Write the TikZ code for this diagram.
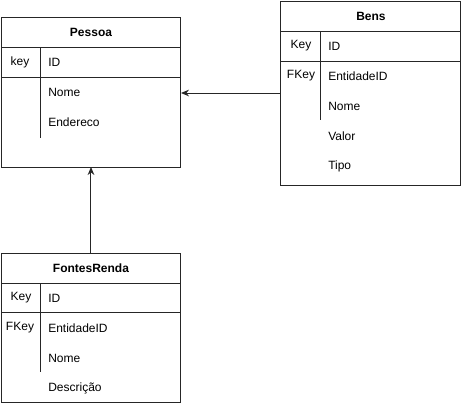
\documentclass[tikz,border=0pt]{standalone}
\usepackage{fontspec}
\setmainfont{Liberation Sans}
\usetikzlibrary{arrows.meta}
\begin{document}
\begin{tikzpicture}[x=0.75pt,y=-0.75pt,
  tbl/.style={draw=black!85,line width=0.75pt,minimum width=135pt,anchor=north west,inner sep=0pt,outer sep=0pt},
  sep/.style={draw=black!85,line width=0.75pt},
  hdr/.style={font=\bfseries\fontsize{9}{10}\selectfont,inner sep=0pt},
  fld/.style={font=\fontsize{9}{10}\selectfont,anchor=west,inner sep=0pt},
  keyt/.style={font=\fontsize{9}{10}\selectfont,inner sep=0pt},
  conn/.style={draw=black!85,line width=0.75pt,-{Stealth[length=6pt,width=5pt]}}]
\useasboundingbox (0,0) rectangle (462,404);
% Pessoa
\node[tbl,minimum height=112.5pt] (pessoa) at (1,17) {};
\node[hdr] (pessoaH) at (91,32) {Pessoa};
\coordinate (p1) at (1,47); \coordinate (p2) at (181,47);
\coordinate (p3) at (1,77); \coordinate (p4) at (181,77);
\coordinate (pv1) at (41,47); \coordinate (pv2) at (41,138);
\draw[sep] (p1) -- (p2) (p3) -- (p4) (pv1) -- (pv2);
\node[keyt] (pk1) at (20,62) {key};
\node[fld] (pf1) at (48,62) {ID};
\node[fld] (pf2) at (48,92) {Nome};
\node[fld] (pf3) at (48,122) {Endereco};
% Bens
\node[tbl,minimum height=138pt] (bens) at (281,1) {};
\node[hdr] (bensH) at (371,16) {Bens};
\coordinate (b1) at (281,31); \coordinate (b2) at (461,31);
\coordinate (b3) at (281,61); \coordinate (b4) at (461,61);
\coordinate (bv1) at (321,31); \coordinate (bv2) at (321,120);
\draw[sep] (b1) -- (b2) (b3) -- (b4) (bv1) -- (bv2);
\node[keyt] (bk1) at (301,46) {Key};
\node[keyt] (bk2) at (301,76) {FKey};
\node[fld] (bf1) at (328,46) {ID};
\node[fld] (bf2) at (328,76) {EntidadeID};
\node[fld] (bf3) at (328,106) {Nome};
\node[fld] (bf4) at (328,136) {Valor};
\node[fld] (bf5) at (328,166) {Tipo};
% FontesRenda
\node[tbl,minimum height=111.75pt] (fontes) at (1,253) {};
\node[hdr] (fontesH) at (91,268) {FontesRenda};
\coordinate (f1) at (1,283); \coordinate (f2) at (181,283);
\coordinate (f3) at (1,312); \coordinate (f4) at (181,312);
\coordinate (fv1) at (41,283); \coordinate (fv2) at (41,372);
\draw[sep] (f1) -- (f2) (f3) -- (f4) (fv1) -- (fv2);
\node[keyt] (fk1) at (21,298) {Key};
\node[keyt] (fk2) at (20,328) {FKey};
\node[fld] (ff1) at (48,298) {ID};
\node[fld] (ff2) at (48,328) {EntidadeID};
\node[fld] (ff3) at (48,358) {Nome};
\node[fld] (ff4) at (48,388) {Descrição};
% connectors
\draw[conn] (bens.west) -- (bens.west -| pessoa.east);
\draw[conn] (fontes.north) -- (pessoa.south);
\end{tikzpicture}
\end{document}
